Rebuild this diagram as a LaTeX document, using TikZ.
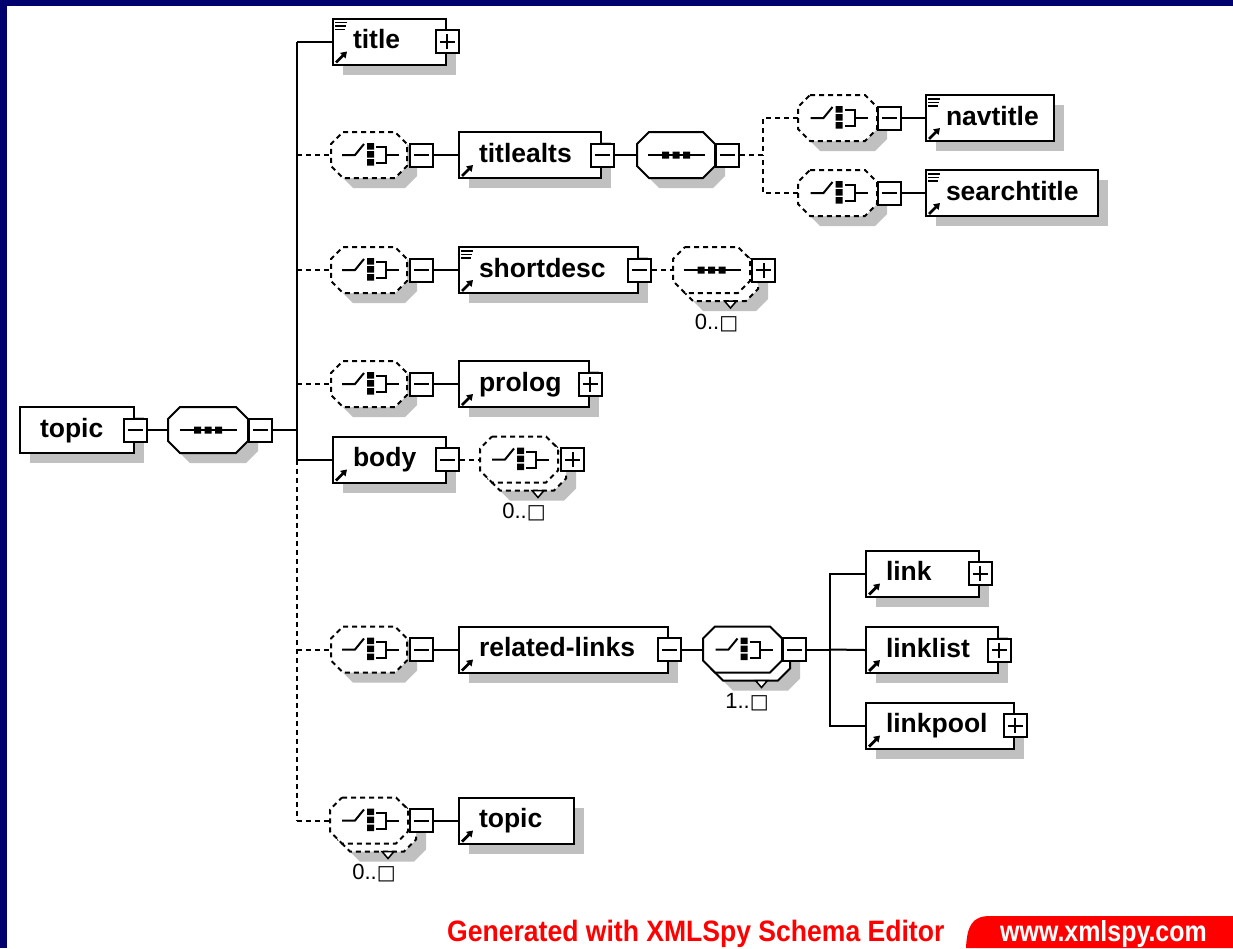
\documentclass[tikz,border=0pt]{standalone}
\usepackage{fontspec}
\setmainfont{Liberation Sans}
\newfontfamily\symfont{DejaVu Sans}
\usetikzlibrary{shadows,calc,arrows.meta}
\definecolor{navyb}{RGB}{0,0,110}
\definecolor{shadowc}{RGB}{192,192,192}
\definecolor{xred}{RGB}{255,0,0}
\newcommand{\ocbox}{{\symfont\fontsize{20}{22}\selectfont □}}
\tikzset{
 conn/.style={line width=2pt},
 dconn/.style={line width=2pt, dash pattern=on 5pt off 4pt},
 elem/.style={draw, line width=2pt, fill=white, minimum height=46pt, inner ysep=0pt, inner xsep=20pt,
   text height=19pt, text depth=5pt, font=\fontsize{26.5}{30}\selectfont\bfseries,
   drop shadow={shadow xshift=10pt, shadow yshift=-10pt, fill=shadowc, opacity=1}},
 btn/.style={draw, line width=2pt, fill=white, minimum size=23pt, inner sep=0pt},
 btnm/.style={btn, path picture={\draw[line width=2pt] ([xshift=4pt]path picture bounding box.west) -- ([xshift=-4pt]path picture bounding box.east);}},
 btnp/.style={btn, path picture={\draw[line width=2pt] ([xshift=4pt]path picture bounding box.west) -- ([xshift=-4pt]path picture bounding box.east);
   \draw[line width=2pt] ([yshift=4pt]path picture bounding box.south) -- ([yshift=-4pt]path picture bounding box.north);}},
 sym/.style={line width=2pt},
 occ/.style={font=\fontsize{22}{24}\selectfont, inner sep=0pt},
 octo/.style={line width=2pt, fill=white, draw},
 octod/.style={octo, dash pattern=on 5pt off 4pt},
 hole/.style={inner sep=0pt, minimum height=46pt},
}
\newcommand{\octpath}[3]{({#1-#3/2+12},{#2-23}) -- ({#1+#3/2-12},{#2-23}) -- ({#1+#3/2},{#2-11}) -- ({#1+#3/2},{#2+11}) -- ({#1+#3/2-12},{#2+23}) -- ({#1-#3/2+12},{#2+23}) -- ({#1-#3/2},{#2+11}) -- ({#1-#3/2},{#2-11}) -- cycle}
\newcommand{\octa}[5]{%
 \fill[shadowc] \octpath{#2+10}{#3+10}{#4};
 \path[#5] \octpath{#2}{#3}{#4};
 \node[hole, minimum width=#4pt] (#1) at (#2,#3) {};}
\newcommand{\octarep}[5]{%
 \fill[shadowc] \octpath{#2+18}{#3+18}{#4};
 \path[#5] \octpath{#2+8}{#3+8}{#4};
 \path[#5] \octpath{#2}{#3}{#4};
 \draw[line width=1.5pt, fill=white] ({#2+13},{#3+31}) -- ({#2+25},{#3+31}) -- ({#2+19},{#3+38}) -- cycle;
 \node[hole, minimum width=#4pt] (#1) at (#2,#3) {};}
\newcommand{\seqsym}[2]{\begin{scope}[shift={(#1,#2)}]
 \draw[sym] (-28,0) -- (29,0);
 \fill (-14,-3.5) rectangle (-7,3.5) (-3.5,-3.5) rectangle (3.5,3.5) (7,-3.5) rectangle (14,3.5);
 \end{scope}}
\newcommand{\choicesym}[2]{\begin{scope}[shift={(#1,#2)}]
 \draw[sym] (-27,0) -- (-14,0) -- (-5,-11);
 \fill (-2,-12) rectangle (5,-5.5) (-2,-4) rectangle (5,2.5) (-2,4) rectangle (5,10.5);
 \draw[sym] (7,-8) -- (17,-8) -- (17,8) -- (7,8) (17,0) -- (30,0);
 \end{scope}}
\newcommand{\elemnode}[5]{\node[elem, anchor=west, minimum width=#4pt] (#1) at (#2,#3) {\makebox[\dimexpr #4pt-40pt\relax][l]{#5}};}
\newcommand{\refarrow}[1]{\draw[line width=2.8pt, -{Triangle[length=6pt,width=7.5pt]}] ([xshift=4pt,yshift=3pt]#1.south west) -- ([xshift=15pt,yshift=14pt]#1.south west);}
\newcommand{\textlines}[1]{\draw[line width=1.5pt] ([xshift=3pt,yshift=-5pt]#1.north west) -- ++(12pt,0pt) ([xshift=3pt,yshift=-8.5pt]#1.north west) -- ++(11pt,0pt) ([xshift=3pt,yshift=-12pt]#1.north west) -- ++(10pt,0pt);}
\begin{document}
\begin{tikzpicture}[x=1pt,y=-1pt]
\useasboundingbox (0,0) rectangle (1233,948);
\fill[white] (0,0) rectangle (1233,948);
\fill[navyb] (0,0) rectangle (1233,6);
\fill[navyb] (0,0) rectangle (7,948);
% root
\elemnode{root}{19}{430}{114}{topic}
\node[btnm] (rootm) at (root.east) {};
\octa{seq0}{208}{430}{80}{octo}
\seqsym{208}{430}
\node[btnm] (seq0m) at (260.5,430) {};
\coordinate (trunk) at (297,430);
% title
\elemnode{title}{332}{41.5}{113}{title}
\textlines{title}\refarrow{title}
\node[btnp] (titlep) at (title.east) {};
% titlealts
\octa{c1}{369}{155}{76}{octod}
\choicesym{369}{155}
\node[btnm] (c1m) at (421.5,155) {};
\elemnode{titlealts}{458}{155}{142}{titlealts}
\refarrow{titlealts}
\node[btnm] (tam) at (titlealts.east) {};
\octa{s1}{676}{155}{78}{octo}
\seqsym{676}{155}
\node[btnm] (s1m) at (727,155) {};
\coordinate (fork1) at (763,155);
\octa{c2}{837.5}{118}{79}{octod}
\choicesym{837.5}{118}
\node[btnm] (c2m) at (889,118) {};
\elemnode{navtitle}{925}{118}{128}{navtitle}
\textlines{navtitle}\refarrow{navtitle}
\octa{c3}{837.5}{193}{79}{octod}
\choicesym{837.5}{193}
\node[btnm] (c3m) at (889,193) {};
\elemnode{searchtitle}{925}{193}{172}{searchtitle}
\textlines{searchtitle}\refarrow{searchtitle}
% shortdesc
\octa{c4}{369}{270}{76}{octod}
\choicesym{369}{270}
\node[btnm] (c4m) at (421.5,270) {};
\elemnode{shortdesc}{458}{270}{179}{shortdesc}
\textlines{shortdesc}\refarrow{shortdesc}
\node[btnm] (sdm) at (shortdesc.east) {};
\octarep{s2}{711.5}{270}{77}{octod}
\seqsym{711.5}{270}
\node[btnp] (s2p) at (763.5,270) {};
\node[occ] (s2occ) at (716.5,323) {0..\ocbox};
% prolog
\octa{c5}{369}{384}{76}{octod}
\choicesym{369}{384}
\node[btnm] (c5m) at (421.5,384) {};
\elemnode{prolog}{458}{384}{130}{prolog}
\refarrow{prolog}
\node[btnp] (prologp) at (prolog.east) {};
% body
\elemnode{body}{332}{459.5}{113}{body}
\refarrow{body}
\node[btnm] (bodym) at (body.east) {};
\octarep{c6}{519}{459.5}{78}{octod}
\choicesym{519}{459.5}
\node[btnp] (c6p) at (572.5,459.5) {};
\node[occ] (c6occ) at (524,512.5) {0..\ocbox};
% related-links
\octa{c7}{369}{649.5}{76}{octod}
\choicesym{369}{649.5}
\node[btnm] (c7m) at (421.5,649.5) {};
\elemnode{rl}{458}{649.5}{209}{related-links}
\refarrow{rl}
\node[btnm] (rlm) at (rl.east) {};
\octarep{c8}{742.5}{649.5}{79}{octo}
\choicesym{742.5}{649.5}
\node[btnm] (c8m) at (794,649.5) {};
\node[occ] (c8occ) at (747,702.5) {1..\ocbox};
\coordinate (fork2) at (830,649.5);
\elemnode{link}{865}{573.5}{113}{link}
\refarrow{link}
\node[btnp] (linkp) at (link.east) {};
\elemnode{linklist}{865}{650}{132}{linklist}
\refarrow{linklist}
\node[btnp] (linklistp) at (linklist.east) {};
\elemnode{linkpool}{865}{725.5}{148}{linkpool}
\refarrow{linkpool}
\node[btnp] (linkpoolp) at (linkpool.east) {};
% topic (recursive)
\octarep{c9}{369}{820.5}{78}{octod}
\choicesym{369}{820.5}
\node[btnm] (c9m) at (421,820.5) {};
\elemnode{topic2}{458}{820.5}{115}{topic}
\refarrow{topic2}
\node[occ] (c9occ) at (374,873.5) {0..\ocbox};
% connectors
\draw[conn] (rootm.east) -- (seq0.west);
\draw[conn] (seq0m.east) -- (trunk);
\draw[conn] (trunk |- title.west) -- (trunk |- body.west);
\draw[dconn] (trunk |- body.west) -- (trunk |- c9.west);
\draw[conn] (trunk |- title.west) -- (title.west);
\draw[conn] (trunk |- body.west) -- (body.west);
\draw[dconn] (trunk |- c1.west) -- (c1.west);
\draw[dconn] (trunk |- c4.west) -- (c4.west);
\draw[dconn] (trunk |- c5.west) -- (c5.west);
\draw[dconn] (trunk |- c7.west) -- (c7.west);
\draw[dconn] (trunk |- c9.west) -- (c9.west);
\draw[conn] (c1m.east) -- (titlealts.west);
\draw[conn] (tam.east) -- (s1.west);
\draw[dconn] (s1m.east) -- (fork1);
\draw[dconn] (c2.west) -| (fork1);
\draw[dconn] (c3.west) -| (fork1);
\draw[conn] (c2m.east) -- (navtitle.west);
\draw[conn] (c3m.east) -- (searchtitle.west);
\draw[conn] (c4m.east) -- (shortdesc.west);
\draw[dconn] (sdm.east) -- (s2.west);
\draw[conn] (c5m.east) -- (prolog.west);
\draw[dconn] (bodym.east) -- (c6.west);
\draw[conn] (c7m.east) -- (rl.west);
\draw[conn] (rlm.east) -- (c8.west);
\draw[conn] (c8m.east) -- (fork2);
\draw[conn] (link.west) -| (fork2);
\draw[conn] (linkpool.west) -| (fork2);
\draw[conn] (fork2) -- (linklist.west);
\draw[conn] (c9m.east) -- (topic2.west);
% footer
\fill[xred] (966,948) .. controls (967,926) and (972,916) .. (990,916) -- (1233,916) -- (1233,948) -- cycle;
\node[anchor=base west, inner sep=0pt, text=xred, font=\fontsize{29.5}{32}\selectfont\bfseries] (gen) at (447,941) {\scalebox{0.9}[1]{Generated with XMLSpy Schema Editor}};
\node[anchor=base west, inner sep=0pt, text=white, font=\fontsize{29}{32}\selectfont\bfseries] (www) at (1000,941) {\scalebox{0.86}[1]{www.xmlspy.com}};
\end{tikzpicture}
\end{document}
